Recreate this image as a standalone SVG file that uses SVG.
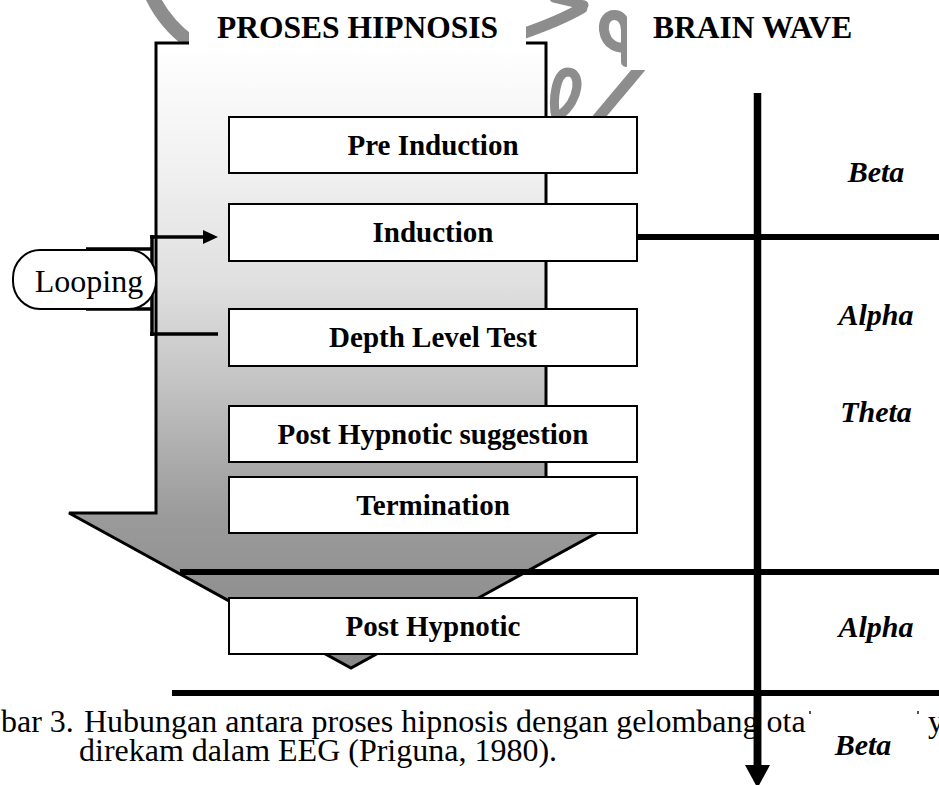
<svg xmlns="http://www.w3.org/2000/svg" width="939" height="785" viewBox="0 0 939 785">
  <defs>
    <linearGradient id="shaftGrad" gradientUnits="userSpaceOnUse" x1="0" y1="43" x2="0" y2="668">
      <stop offset="0" stop-color="#ffffff"/>
      <stop offset="0.17" stop-color="#f3f3f3"/>
      <stop offset="0.39" stop-color="#dfdfdf"/>
      <stop offset="0.556" stop-color="#c1c1c1"/>
      <stop offset="0.683" stop-color="#a8a8a8"/>
      <stop offset="0.763" stop-color="#9a9a9a"/>
      <stop offset="1" stop-color="#888888"/>
    </linearGradient>
  </defs>
  <style>
    .box { fill: #ffffff; stroke: #000; stroke-width: 2; }
    .boxText { font-family: "Liberation Serif", "Times New Roman", serif; font-weight: bold; font-size: 29px; fill: #000; text-anchor: middle; }
    .head { font-family: "Liberation Serif", "Times New Roman", serif; font-weight: bold; font-size: 31.5px; fill: #000; }
    .wave { font-family: "Liberation Serif", "Times New Roman", serif; font-weight: bold; font-style: italic; font-size: 30px; fill: #000; text-anchor: middle; }
    .cap { font-family: "Liberation Serif", "Times New Roman", serif; font-size: 32px; fill: #000; }
    .thick { stroke: #000; stroke-width: 6; fill: none; }
    .thin { stroke: #000; stroke-width: 3.5; fill: none; }
    .wm { stroke: #8d8d8d; fill: none; stroke-linecap: round; }
  </style>

  <rect x="0" y="0" width="939" height="785" fill="#ffffff"/>

  <!-- watermark remnants -->
  <g id="watermark">
    <path class="wm" d="M150 -8 Q 163 22 190 42" stroke-width="14"/>
    <path class="wm" d="M522 34 C 545 26, 565 18, 582 8" stroke-width="11"/>
    <path class="wm" d="M554 -2 L 584 5" stroke-width="9"/>
    <path class="wm" d="M626 62 L 626 30 C 626 10, 602 10, 604 30 C 606 46, 620 50, 626 46" stroke-width="10"/>
    <path class="wm" d="M640 68 L 598 118" stroke-width="11"/>
    <path class="wm" d="M556 118 C 552 100, 556 72, 568 72 C 582 72, 580 100, 560 115" stroke-width="9"/>
  </g>

  <!-- big process arrow -->
  <g id="process-arrow">
    <path d="M156 43 L546 43 L546 513 L633 513 L351 668 L69 513 L156 513 Z" fill="url(#shaftGrad)" stroke="#000" stroke-width="3" stroke-linejoin="miter"/>
  </g>

  <!-- heading backgrounds -->
  <rect x="189" y="0" width="337" height="52" fill="#ffffff"/>
  <rect x="627" y="0" width="312" height="70" fill="#ffffff"/>

  <g id="title-proses"><text class="head" x="217" y="38">PROSES HIPNOSIS</text></g>
  <g id="title-brainwave"><text class="head" x="653" y="38">BRAIN WAVE</text></g>

  <!-- connectors -->
  <g id="connectors">
    <path class="thin" d="M86 249 L152 249"/>
    <path class="thin" d="M86 309 L152 309"/>
    <path class="thin" d="M152 235 L152 336"/>
    <path class="thin" d="M150 237 L205 237"/>
    <path d="M203 230 L218 237 L203 244 Z" fill="#000"/>
    <path class="thin" d="M150 334 L218 334"/>
    <path class="thick" d="M637 237 L939 237"/>
    <path class="thick" d="M180 572 L939 572"/>
    <path class="thick" d="M172 693 L939 693"/>
    <path d="M757.5 93 L757.5 768" stroke="#000" stroke-width="7.5" fill="none"/>
    <path d="M745 765 L770 765 L757.5 788 Z" fill="#000"/>
  </g>

  <g id="looping">
    <rect x="13" y="250" width="143" height="59" rx="27" ry="28" fill="#ffffff" stroke="#000" stroke-width="2"/>
    <text x="89" y="292" font-family="Liberation Serif, Times New Roman, serif" font-size="32" text-anchor="middle" fill="#000">Looping</text>
  </g>

  <g id="pre-induction">
    <rect class="box" x="229" y="117" width="408" height="56"/>
    <text class="boxText" x="433" y="155">Pre Induction</text>
  </g>
  <g id="induction">
    <rect class="box" x="229" y="204" width="408" height="57"/>
    <text class="boxText" x="433" y="242">Induction</text>
  </g>
  <g id="depth-level-test">
    <rect class="box" x="229" y="309" width="408" height="57"/>
    <text class="boxText" x="433" y="347">Depth Level Test</text>
  </g>
  <g id="post-hypnotic-suggestion">
    <rect class="box" x="229" y="406" width="408" height="56"/>
    <text class="boxText" x="433" y="444">Post Hypnotic suggestion</text>
  </g>
  <g id="termination">
    <rect class="box" x="229" y="477" width="408" height="56"/>
    <text class="boxText" x="433" y="515">Termination</text>
  </g>
  <g id="post-hypnotic">
    <rect class="box" x="229" y="598" width="408" height="56"/>
    <text class="boxText" x="433" y="636">Post Hypnotic</text>
  </g>

  <g id="wave-beta-1"><text class="wave" x="876" y="182">Beta</text></g>
  <g id="wave-alpha-1"><text class="wave" x="876" y="325">Alpha</text></g>
  <g id="wave-theta"><text class="wave" x="876" y="422">Theta</text></g>
  <g id="wave-alpha-2"><text class="wave" x="876" y="637">Alpha</text></g>

  <g id="caption">
    <text class="cap" x="1" y="732">bar 3.</text>
    <text class="cap" x="84" y="732">Hubungan antara proses hipnosis dengan gelombang ota</text>
    <text class="cap" x="928" y="732">y</text>
    <text class="cap" x="79" y="761" font-size="31.5">direkam dalam EEG (Priguna, 1980).</text>
  </g>
  <path d="M757.5 693 L757.5 768" stroke="#000" stroke-width="7.5" fill="none"/>

  <g id="wave-beta-2">
    <rect x="806" y="714" width="120" height="71" fill="#ffffff"/>
    <rect x="809" y="711" width="2" height="3" fill="#555"/>
    <rect x="917" y="711" width="2" height="3" fill="#555"/>
    <text class="wave" x="863" y="755">Beta</text>
  </g>
</svg>
